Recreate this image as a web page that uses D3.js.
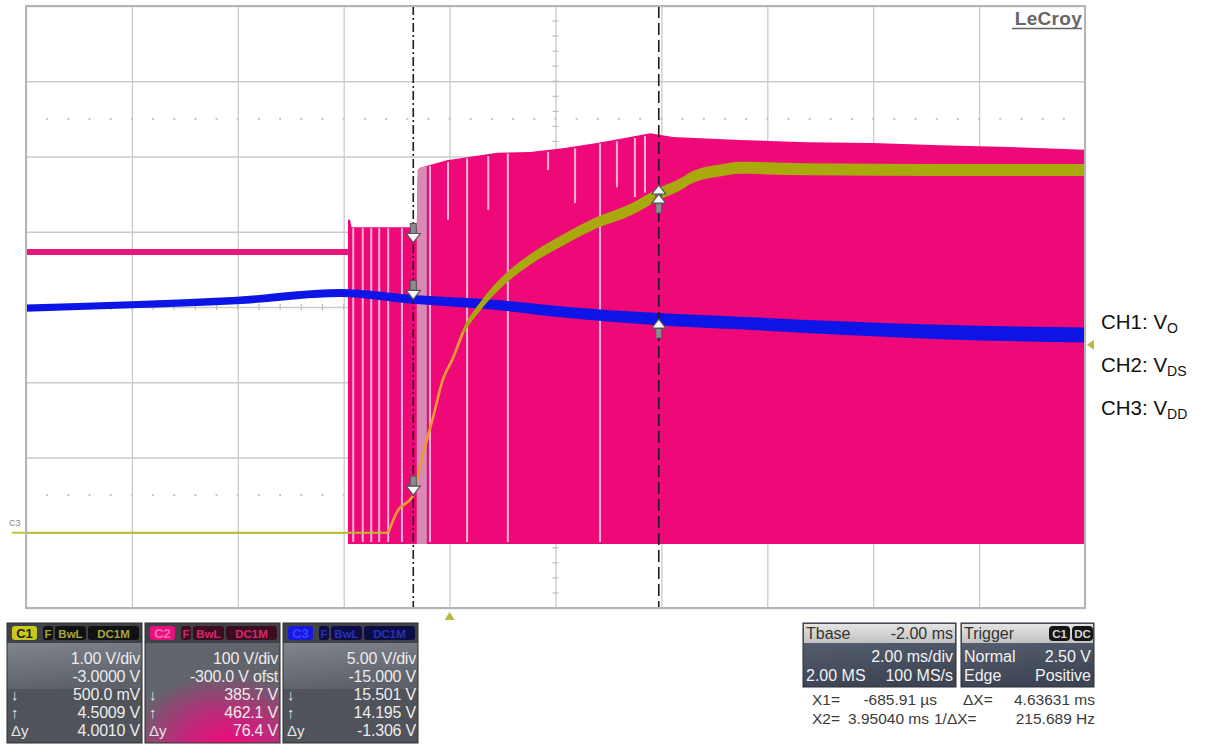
<!DOCTYPE html>
<html><head><meta charset="utf-8"><title>Scope capture</title>
<script src="https://cdn.jsdelivr.net/npm/d3@7/dist/d3.min.js"></script>
<style>html,body{margin:0;padding:0;background:#fff;overflow:hidden}svg{display:block;font-family:"Liberation Sans",Arial,Helvetica,sans-serif}</style>
</head><body><svg id="chart" width="1219" height="744"></svg>
<script>
// ---------------- data ----------------
const timeRangeMs = [-8, 12];
const timePerDivMs = 2;
const chVoltsPerDiv = [1, 100, 5];
const chOffsetV = [-3, -300, -15];
const cursorTimesMs = [-0.68591, 3.95040];
const triggerTimeMs = 0;
const triggerLevelV = 2.5;

// CH1 : V_O
const voTime   = [-8, -1.16, -0.99, -0.69, -0.56, -0.43, -0.31, -0.13, 0.05, 0.25, 0.57, 0.9, 1.52, 2.14, 2.78, 3.41, 3.95, 4.41, 4.54, 5.16, 5.48, 6.75, 9.26, 12];
const voValue  = [0, 0, 0.28, 0.5, 0.87, 1.23, 1.54, 2.03, 2.3, 2.66, 3.0, 3.27, 3.63, 3.89, 4.12, 4.29, 4.5, 4.65, 4.71, 4.82, 4.85, 4.83, 4.82, 4.82];
const voSpread = [0.012, 0.012, 0.012, 0.012, 0.014, 0.016, 0.018, 0.025, 0.035, 0.045, 0.055, 0.065, 0.07, 0.075, 0.075, 0.078, 0.08, 0.08, 0.08, 0.08, 0.08, 0.08, 0.08, 0.08];
const voRiseWindow = [-1.16, 0.25];

// CH2 : V_DS
const vdsOffTime = [-8, -1.92];
const vdsOffValue = [373, 373];
const vdsOffSpread = [4, 4];
const vdsEnvTime = [-1.92, -1.88, -1.85, -0.62, -0.60, -0.56, -0.05, 0.9, 1.52, 2.14, 2.78, 3.41, 3.79, 4.22, 5.48, 6.75, 8.0, 9.26, 10.4, 12];
const vdsEnvTop  = [416, 416, 406, 406, 482, 485, 495, 505, 506, 511, 518, 526, 531, 526, 522, 519, 518, 515, 513, 509];
const vdsLowLevel = -15;
const vdsFullGapTime = [-1.82, -1.64, -1.48, -1.33, -1.16, -0.90, -0.37, 0.33, 1.10, 2.84];
const vdsPartGapTime = [-0.03, 0.73, 1.86, 2.37, 3.16, 3.50, 3.69];
const vdsPartGapLow  = [416, 429, 482, 438, 459, 446, 452];
const vdsDimWindow = [-0.62, -0.43];

// CH3 : V_DD
const vddTime   = [-8, -6.02, -4.02, -2.07, -0.69, 0.9, 2.14, 3.95, 5.48, 7.37, 9.26, 12];
const vddValue  = [14.93, 15.15, 15.43, 15.93, 15.5, 15.13, 14.67, 14.195, 13.94, 13.6, 13.34, 13.14];
const vddSpread = [0.24, 0.24, 0.25, 0.26, 0.29, 0.33, 0.37, 0.4, 0.42, 0.45, 0.48, 0.5];

// cursor readings [X1, X2]
const ch1Cursor = [0.5, 4.5009];
const ch2Cursor = [385.7, 462.1];
const ch3Cursor = [15.501, 14.195];

// panel texts
const ch1Rows = ["1.00 V/div", "-3.0000 V", "500.0 mV", "4.5009 V", "4.0010 V"];
const ch2Rows = ["100 V/div", "-300.0 V ofst", "385.7 V", "462.1 V", "76.4 V"];
const ch3Rows = ["5.00 V/div", "-15.000 V", "15.501 V", "14.195 V", "-1.306 V"];
const rowMarks = ["", "", "\u2193", "\u2191", "\u0394y"];
const chipLabels = ["F", "BwL", "DC1M"];
const chTags = ["C1", "C2", "C3"];
const tbaseHeader = ["Tbase", "-2.00 ms"];
const tbaseRows = [["", "2.00 ms/div"], ["2.00 MS", "100 MS/s"]];
const trigHeader = ["Trigger", "C1", "DC"];
const trigRows = [["Normal", "2.50 V"], ["Edge", "Positive"]];
const legendMain = ["CH1: V", "CH2: V", "CH3: V"];
const legendSub = ["O", "DS", "DD"];

// ---------------- drawing ----------------
const svg = d3.select("#chart");
const P = {l: 26, r: 1085, t: 6, b: 608};
const x = d3.scaleLinear().domain(timeRangeMs).range([P.l, P.r]);
function chScale(i) {
  const c = -chOffsetV[i], d = chVoltsPerDiv[i] * 4;
  return d3.scaleLinear().domain([c - d, c + d]).range([P.b, P.t]);
}
const y1 = chScale(0), y2 = chScale(1), y3 = chScale(2);

const defs = svg.append("defs");
defs.append("clipPath").attr("id", "plotClip").append("rect")
  .attr("x", P.l).attr("y", P.t).attr("width", P.r - P.l).attr("height", P.b - P.t);

// grid through axes
const gridT = d3.range(timeRangeMs[0], timeRangeMs[1] + 1e-9, timePerDivMs);
const gx = svg.append("g").attr("transform", `translate(0,${P.t})`)
  .call(d3.axisTop(x).tickValues(gridT).tickSize(-(P.b - P.t)).tickFormat(""));
gx.select(".domain").remove();
gx.selectAll("line").attr("stroke", "#cacaca").attr("stroke-width", 1.3);
const gridV = d3.range(y1.domain()[0], y1.domain()[1] + 1e-9, chVoltsPerDiv[0]);
const gy = svg.append("g").attr("transform", `translate(${P.l},0)`)
  .call(d3.axisLeft(y1).tickValues(gridV).tickSize(-(P.r - P.l)).tickFormat(""));
gy.select(".domain").remove();
gy.selectAll("line").attr("stroke", "#cacaca").attr("stroke-width", 1.3);

// minor ticks on centre lines and dotted rows
const tc = (timeRangeMs[0] + timeRangeMs[1]) / 2;
const vc = -chOffsetV[0];
const minorT = d3.range(timeRangeMs[0], timeRangeMs[1] + 1e-9, timePerDivMs / 5);
const minorV = d3.range(y1.domain()[0], y1.domain()[1] + 1e-9, chVoltsPerDiv[0] / 5);
const mg = svg.append("g").attr("stroke", "#bdbdbd").attr("stroke-width", 1.2);
mg.selectAll("line.h").data(minorT).join("line").attr("class", "h")
  .attr("x1", d => x(d)).attr("x2", d => x(d)).attr("y1", y1(vc) - 3).attr("y2", y1(vc) + 3);
mg.selectAll("line.v").data(minorV).join("line").attr("class", "v")
  .attr("y1", d => y1(d)).attr("y2", d => y1(d)).attr("x1", x(tc) - 3).attr("x2", x(tc) + 3);
[vc + 2.5 * chVoltsPerDiv[0], vc - 2.5 * chVoltsPerDiv[0]].forEach(v => {
  svg.append("g").selectAll("rect").data(minorT.slice(1, -1)).join("rect")
    .attr("x", d => x(d) - 1).attr("y", y1(v) - 1).attr("width", 2).attr("height", 2).attr("fill", "#c4c4c4");
});

const plot = svg.append("g").attr("clip-path", "url(#plotClip)");

// ---- CH2 V_DS ----
const offData = vdsOffTime.map((t, i) => ({t, v: vdsOffValue[i], s: vdsOffSpread[i]}));
plot.append("path").datum(offData)
  .attr("d", d3.area().x(d => x(d.t)).y0(d => y2(d.v - d.s)).y1(d => y2(d.v + d.s)))
  .attr("fill", "#e8167c");
const envData = vdsEnvTime.map((t, i) => ({t, v: vdsEnvTop[i]}));
plot.append("path").datum(envData)
  .attr("d", d3.area().x(d => x(d.t)).y0(y2(vdsLowLevel)).y1(d => y2(d.v)))
  .attr("fill", "#ef0878");
const topAt = d3.scaleLinear().domain(vdsEnvTime).range(vdsEnvTop);
// dim (lighter) column right after X1
const dimData = d3.range(vdsDimWindow[0], vdsDimWindow[1] + 1e-9, 0.01).map(t => ({t}));
plot.append("path").datum(dimData)
  .attr("d", d3.area().x(d => x(d.t)).y0(y2(vdsLowLevel)).y1(d => y2(topAt(d.t))))
  .attr("fill", "#d98ab4");
plot.append("g").selectAll("line").data(vdsFullGapTime).join("line")
  .attr("x1", d => x(d)).attr("x2", d => x(d))
  .attr("y1", d => y2(topAt(d)) + 1).attr("y2", y2(vdsLowLevel) - 2)
  .attr("stroke", "#f6b4d4").attr("stroke-width", 2);
plot.append("g").selectAll("line").data(vdsPartGapTime).join("line")
  .attr("x1", d => x(d)).attr("x2", d => x(d))
  .attr("y1", d => y2(topAt(d)) + 2).attr("y2", (d, i) => y2(vdsPartGapLow[i]))
  .attr("stroke", "#f6b4d4").attr("stroke-width", 2);

// ---- CH3 V_DD ----
const vddData = vddTime.map((t, i) => ({t, v: vddValue[i], s: vddSpread[i]}));
plot.append("path").datum(vddData)
  .attr("d", d3.area().curve(d3.curveMonotoneX).x(d => x(d.t)).y0(d => y3(d.v - d.s)).y1(d => y3(d.v + d.s)))
  .attr("fill", "#0c14e6");

// ---- CH1 V_O ----
const voData = voTime.map((t, i) => ({t, v: voValue[i], s: voSpread[i]}));
plot.append("path").datum(voData.filter(d => d.t >= voRiseWindow[0]))
  .attr("d", d3.area().curve(d3.curveMonotoneX).x(d => x(d.t)).y0(d => y1(d.v - d.s)).y1(d => y1(d.v + d.s)))
  .attr("fill", "#a9a90e");
plot.append("path").datum(voData.filter(d => d.t <= voRiseWindow[0]))
  .attr("d", d3.line().x(d => x(d.t)).y(d => y1(d.v)))
  .attr("fill", "none").attr("stroke", "#bdbd2a").attr("stroke-width", 2);
plot.append("path").datum(voData.filter(d => d.t >= voRiseWindow[0] && d.t <= voRiseWindow[1]))
  .attr("d", d3.line().curve(d3.curveMonotoneX).x(d => x(d.t)).y(d => y1(d.v)))
  .attr("fill", "none").attr("stroke", "#eb9a34").attr("stroke-width", 2.6);
// ground marker stub left of the grid
svg.append("line").attr("x1", P.l - 14).attr("x2", P.l).attr("y1", y1(0)).attr("y2", y1(0))
  .attr("stroke", "#c4c43a").attr("stroke-width", 2);
svg.append("text").attr("x", P.l - 17).attr("y", y1(0) - 7).attr("font-size", 9)
  .attr("fill", "#888").text("C3");

// ---- cursors ----
const dash = ["9,3,2,3", "12,5"];
svg.append("g").selectAll("line").data(cursorTimesMs).join("line")
  .attr("x1", d => x(d)).attr("x2", d => x(d)).attr("y1", P.t).attr("y2", P.b)
  .attr("stroke", "#1c1c1c").attr("stroke-width", 1.6).attr("stroke-dasharray", (d, i) => dash[i]);

function cursorArrow(cx, tipY, dir) {
  // dir = 1: points down (tip below); -1: points up
  const g = svg.append("g");
  g.append("rect").attr("x", cx - 3).attr("width", 6)
    .attr("y", dir > 0 ? tipY - 19 : tipY + 9).attr("height", 10)
    .attr("fill", "#8c8c8c").attr("stroke", "#555").attr("stroke-width", 1);
  g.append("path").attr("d", `M${cx - 7},${tipY - dir * 9} L${cx + 7},${tipY - dir * 9} L${cx},${tipY} Z`)
    .attr("fill", "#fafafa").attr("stroke", "#555").attr("stroke-width", 1.2);
}
[[y2, ch2Cursor], [y3, ch3Cursor], [y1, ch1Cursor]].forEach(([sc, vals]) => {
  cursorArrow(x(cursorTimesMs[0]), sc(vals[0]), 1);
  cursorArrow(x(cursorTimesMs[1]), sc(vals[1]), -1);
});

// frame
svg.append("rect").attr("x", P.l).attr("y", P.t).attr("width", P.r - P.l).attr("height", P.b - P.t)
  .attr("fill", "none").attr("stroke", "#b4b4b4").attr("stroke-width", 2);

// trigger markers
const tx = x(triggerTimeMs);
svg.append("path").attr("d", `M${tx - 5},${P.b + 12} L${tx + 5},${P.b + 12} L${tx},${P.b + 4} Z`).attr("fill", "#b8b83c");
const ty = y1(triggerLevelV);
svg.append("path").attr("d", `M${P.r + 9},${ty - 5} L${P.r + 9},${ty + 5} L${P.r + 2},${ty} Z`).attr("fill", "#b8b83c");

// LeCroy logo
svg.append("text").attr("x", P.r - 3).attr("y", 25).attr("text-anchor", "end")
  .attr("font-size", 19).attr("font-weight", "bold").attr("fill", "#666").attr("letter-spacing", 0.3).text("LeCroy");
svg.append("line").attr("x1", P.r - 73).attr("x2", P.r - 3).attr("y1", 28.5).attr("y2", 28.5)
  .attr("stroke", "#666").attr("stroke-width", 1.6);

// right legend
legendMain.forEach((m, i) => {
  const t = svg.append("text").attr("x", 1101).attr("y", 329 + i * 43)
    .attr("font-size", 20.5).attr("fill", "#111");
  t.append("tspan").text(m);
  t.append("tspan").attr("font-size", 14).attr("dy", 4).text(legendSub[i]);
});

// ---- channel panels ----
const vg = defs.append("linearGradient").attr("id", "upperGray").attr("x1", 0).attr("y1", 0).attr("x2", 0.3).attr("y2", 1);
vg.append("stop").attr("offset", 0).attr("stop-color", "#80848c");
vg.append("stop").attr("offset", 1).attr("stop-color", "#5d6169");
const rg = defs.append("radialGradient").attr("id", "magBody").attr("cx", 0.6).attr("cy", 1.05).attr("r", 0.75);
rg.append("stop").attr("offset", 0).attr("stop-color", "#f2087c");
rg.append("stop").attr("offset", 0.45).attr("stop-color", "#c0287a");
rg.append("stop").attr("offset", 1).attr("stop-color", "#62646c");
const tg = defs.append("linearGradient").attr("id", "tbBody").attr("x1", 0).attr("y1", 0).attr("x2", 0.2).attr("y2", 1);
tg.append("stop").attr("offset", 0).attr("stop-color", "#5f6878");
tg.append("stop").attr("offset", 1).attr("stop-color", "#3d4554");
const hg = defs.append("linearGradient").attr("id", "tbHead").attr("x1", 0).attr("y1", 0).attr("x2", 0).attr("y2", 1);
hg.append("stop").attr("offset", 0).attr("stop-color", "#e4e4e4");
hg.append("stop").attr("offset", 1).attr("stop-color", "#c2c2c2");

const panelX = [7, 145, 283], panelW = 135;
const panelStyle = [
  {tag: "#c9c91c", tagText: "#1a1a1a", chip: "#121212", chipText: "#a6a63e", lower: "#50535a", magenta: false},
  {tag: "#e8107c", tagText: "#ff6cb4", chip: "#3e0c20", chipText: "#d42a6c", lower: "url(#magBody)", magenta: true},
  {tag: "#1818e2", tagText: "#3646ff", chip: "#0d0d44", chipText: "#2632b8", lower: "#50535a", magenta: false}
];
const panelRows = [ch1Rows, ch2Rows, ch3Rows];
const rowY = [664, 682, 700, 718, 736];
panelX.forEach((px, i) => {
  const st = panelStyle[i];
  const g = svg.append("g");
  g.append("rect").attr("x", px).attr("y", 623).attr("width", panelW).attr("height", 120).attr("fill", "#50535a");
  if (st.magenta) {
    g.append("rect").attr("x", px).attr("y", 643).attr("width", panelW).attr("height", 100).attr("fill", st.lower);
  } else {
    g.append("rect").attr("x", px).attr("y", 643).attr("width", panelW).attr("height", 46).attr("fill", "url(#upperGray)");
  }
  g.append("rect").attr("x", px).attr("y", 623).attr("width", panelW).attr("height", 20).attr("fill", "#404248");
  g.append("rect").attr("x", px).attr("y", 623).attr("width", panelW).attr("height", 120)
    .attr("fill", "none").attr("stroke", "#2c2e33").attr("stroke-width", 1);
  // tags
  g.append("rect").attr("x", px + 5).attr("y", 626).attr("width", 25).attr("height", 14).attr("rx", 3).attr("fill", st.tag);
  g.append("text").attr("x", px + 17.5).attr("y", 638).attr("text-anchor", "middle").attr("font-size", 13)
    .attr("font-weight", "bold").attr("fill", st.tagText).text(chTags[i]);
  const chipX = [px + 36, px + 48, px + 81], chipW = [10, 31, panelW - 84];
  chipLabels.forEach((c, j) => {
    g.append("rect").attr("x", chipX[j]).attr("y", 626).attr("width", chipW[j]).attr("height", 14).attr("rx", 3).attr("fill", st.chip);
    g.append("text").attr("x", chipX[j] + chipW[j] / 2).attr("y", 637.5).attr("text-anchor", "middle")
      .attr("font-size", 11.5).attr("font-weight", "bold").attr("fill", st.chipText).text(c);
  });
  panelRows[i].forEach((r, j) => {
    g.append("text").attr("x", px + panelW - 2).attr("y", rowY[j]).attr("text-anchor", "end")
      .attr("font-size", 16).attr("fill", "#ececec").attr("letter-spacing", -0.2).text(r);
    if (rowMarks[j]) g.append("text").attr("x", px + 4).attr("y", rowY[j]).attr("font-size", 15)
      .attr("fill", "#e6e6e6").text(rowMarks[j]);
  });
});

// ---- timebase & trigger panels ----
function infoPanel(px, pw, header, rows, chips) {
  const g = svg.append("g");
  g.append("rect").attr("x", px).attr("y", 623).attr("width", pw).attr("height", 64).attr("fill", "url(#tbBody)")
    .attr("stroke", "#2a2e36").attr("stroke-width", 1);
  g.append("rect").attr("x", px + 1).attr("y", 624).attr("width", pw - 2).attr("height", 19).attr("fill", "url(#tbHead)");
  g.append("text").attr("x", px + 3).attr("y", 639).attr("font-size", 16).attr("fill", "#333").text(header[0]);
  if (chips) {
    const cx = [px + pw - 45, px + pw - 22];
    chips.forEach((c, j) => {
      g.append("rect").attr("x", cx[j]).attr("y", 626).attr("width", 21).attr("height", 15).attr("rx", 4).attr("fill", "#151515");
      g.append("text").attr("x", cx[j] + 10.5).attr("y", 638).attr("text-anchor", "middle").attr("font-size", 11.5)
        .attr("font-weight", "bold").attr("fill", "#d8d8d8").text(c);
    });
  } else {
    g.append("text").attr("x", px + pw - 3).attr("y", 639).attr("text-anchor", "end").attr("font-size", 16)
      .attr("fill", "#333").text(header[1]);
  }
  rows.forEach((r, j) => {
    const yy = 662 + j * 19;
    if (r[0]) g.append("text").attr("x", px + 3).attr("y", yy).attr("font-size", 16).attr("fill", "#f2f2f2").text(r[0]);
    g.append("text").attr("x", px + pw - 3).attr("y", yy).attr("text-anchor", "end").attr("font-size", 16)
      .attr("fill", "#f2f2f2").text(r[1]);
  });
}
infoPanel(803, 153, tbaseHeader, tbaseRows, null);
infoPanel(961, 133, trigHeader, trigRows, trigHeader.slice(1));

// cursor readouts (derived from cursor times)
const fmt = p => v => d3.format(p)(v).replace("\u2212", "-");
const dX = cursorTimesMs[1] - cursorTimesMs[0];
const readout = [
  [["X1=", 812, "start"], [fmt(".2f")(cursorTimesMs[0] * 1000) + " \u00b5s", 937, "end"], ["\u0394X=", 963, "start"], [fmt(".5f")(dX) + " ms", 1095, "end"]],
  [["X2=", 812, "start"], [fmt(".5f")(cursorTimesMs[1]) + " ms", 929, "end"], ["1/\u0394X=", 934, "start"], [fmt(".3f")(1000 / dX) + " Hz", 1095, "end"]]
];
readout.forEach((row, j) => {
  row.forEach(([s, xx, anc]) => {
    svg.append("text").attr("x", xx).attr("y", 705 + j * 19).attr("text-anchor", anc)
      .attr("font-size", 15.5).attr("fill", "#3a3a3a").text(s);
  });
});
</script></body></html>
